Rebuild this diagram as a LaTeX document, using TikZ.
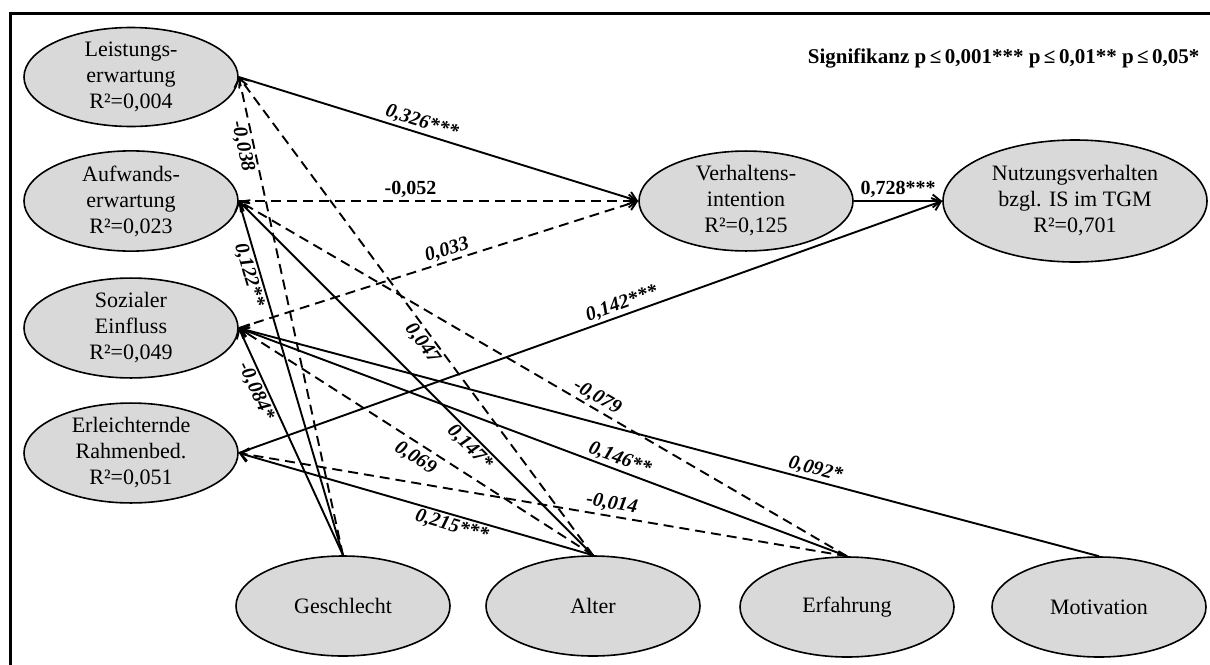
\documentclass[tikz,border=0pt]{standalone}
\usepackage{fontspec}
\setmainfont{Liberation Serif}
\usetikzlibrary{arrows.meta,shapes.geometric}
\definecolor{ellgray}{HTML}{D9D9D9}
\begin{document}
\begin{tikzpicture}[x=1pt,y=1pt,
  var/.style={ellipse,draw=black,line width=1.6pt,fill=ellgray,minimum width=214pt,minimum height=99pt,inner sep=0pt,align=center,font=\fontsize{22}{26}\selectfont},
  sig/.style={line width=1.9pt,-{Straight Barb[length=8pt,width=13pt]}},
  nsig/.style={sig,dash pattern=on 10pt off 6pt},
  lab/.style={font=\fontsize{20}{24}\selectfont\bfseries\itshape,inner sep=2pt,sloped},
  labb/.style={font=\fontsize{20}{24}\selectfont\bfseries,inner sep=2pt,sloped}
]
\useasboundingbox (0,0) rectangle (1210,-664);
\clip (0,0) rectangle (1210,-664);
\draw[line width=3pt] (10,-13) rectangle (1240,-700);

\node[anchor=base east,font=\fontsize{21}{24}\selectfont\bfseries] (sig) at (1203,-63) {Signifikanz p\,≤\,0,001*** p\,≤\,0,01** p\,≤\,0,05*};

\node[var] (L) at (131,-77) {Leistungs-\\erwartung\\R²=0,004};
\node[var] (A) at (131,-201) {Aufwands-\\erwartung\\R²=0,023};
\node[var] (S) at (131,-328) {Sozialer\\Einfluss\\R²=0,049};
\node[var] (E) at (131,-453) {Erleichternde\\Rahmenbed.\\R²=0,051};
\node[var] (V) at (746,-201) {Verhaltens-\\intention\\R²=0,125};
\node[var,minimum width=264pt,minimum height=122pt] (N) at (1075,-201) {Nutzungsverhalten\\bzgl. IS im TGM\\R²=0,701};
\node[var,minimum height=100pt] (G) at (343,-606) {Geschlecht};
\node[var,minimum height=100pt] (Al) at (593,-606) {Alter};
\node[var,minimum height=100pt] (Er) at (847,-607) {Erfahrung};
\node[var,minimum height=100pt] (M) at (1099,-607) {Motivation};

\draw[sig] (L.east) -- node[lab,above,pos=.45]{0,326***} (V.west);
\draw[nsig] (A.east) -- node[labb,above,pos=.43]{-0,052} (V.west);
\draw[nsig] (S.east) -- node[lab,above,pos=.53]{0,033} (V.west);
\draw[sig] (E.east) -- node[lab,above,pos=.55]{0,142***} (N.west);
\draw[sig] (V.east) -- node[labb,above,pos=.5]{0,728***} (N.west);

\draw[nsig] (G.north) -- node[lab,below,pos=.86]{-0,038} (L.east);
\draw[sig] (G.north) -- node[lab,below,pos=.80]{0,122**} (A.east);
\draw[sig] (G.north) -- node[lab,below,pos=.74]{-0,084*} (S.east);

\draw[nsig] (Al.north) -- node[lab,below,pos=.457]{0,047} (L.east);
\draw[sig] (Al.north) -- node[lab,below,pos=.326]{0,147*} (A.east);
\draw[nsig] (Al.north) -- node[lab,below=3pt,pos=.48]{0,069} (S.east);
\draw[sig] (Al.north) -- node[lab,below,pos=.39]{0,215***} (E.east);

\draw[nsig] (Er.north) -- node[lab,above,pos=.42]{-0,079} (A.east);
\draw[sig] (Er.north) -- node[lab,above,pos=.38]{0,146**} (S.east);
\draw[nsig] (Er.north) -- node[lab,above=1pt,pos=.39]{-0,014} (E.east);

\draw[sig] (M.north) -- node[lab,above,pos=.333]{0,092*} (S.east);
\end{tikzpicture}
\end{document}
